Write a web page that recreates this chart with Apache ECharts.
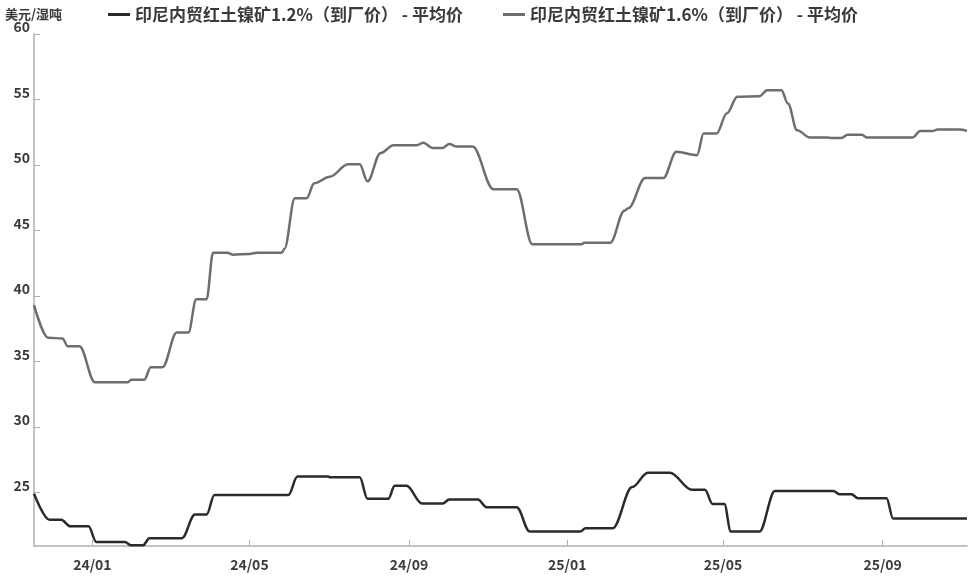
<!DOCTYPE html>
<html><head><meta charset="utf-8">
<script src="https://cdn.jsdelivr.net/npm/echarts@6/dist/echarts.min.js"></script>
<style>html,body{margin:0;padding:0;background:#fff}#c{width:975px;height:579px}</style>
</head><body><div id="c"></div>
<script>
var seriesNames = ['印尼内贸红土镍矿1.2%（到厂价） - 平均价', '印尼内贸红土镍矿1.6%（到厂价） - 平均价'];
var yTicks = [25, 30, 35, 40, 45, 50, 55, 60];
var xTicks = ['2024-01-01', '2024-05-01', '2024-09-01', '2025-01-01', '2025-05-01', '2025-09-01'];
var xRange = ['2023-11-17', '2025-11-05'];

var dates12 = ['2023-11-17','2023-11-29','2023-12-08','2023-12-15','2023-12-29','2024-01-04','2024-01-26','2024-01-31','2024-02-09','2024-02-14','2024-03-10','2024-03-20','2024-03-29','2024-04-04','2024-05-31','2024-06-07','2024-07-01','2024-07-02','2024-07-25','2024-07-31','2024-08-16','2024-08-21','2024-08-30','2024-09-11','2024-09-27','2024-10-02','2024-10-24','2024-10-31','2024-11-23','2024-12-03','2025-01-11','2025-01-15','2025-02-05','2025-02-20','2025-03-04','2025-03-21','2025-04-07','2025-04-17','2025-04-23','2025-05-02','2025-05-07','2025-05-29','2025-06-10','2025-07-25','2025-07-30','2025-08-08','2025-08-13','2025-09-04','2025-09-09','2025-11-05'];
var values12 = [24.9,22.9,22.9,22.4,22.4,21.2,21.2,20.95,20.95,21.5,21.5,23.3,23.3,24.8,24.8,26.2,26.2,26.15,26.15,24.5,24.5,25.5,25.5,24.15,24.15,24.45,24.45,23.85,23.85,22.0,22.0,22.25,22.25,25.4,26.5,26.5,25.2,25.2,24.1,24.1,22.0,22.0,25.1,25.1,24.85,24.85,24.55,24.55,23.0,23.0];

var dates16 = ['2023-11-17','2023-11-28','2023-12-09','2023-12-13','2023-12-22','2024-01-03','2024-01-28','2024-01-31','2024-02-10','2024-02-15','2024-02-24','2024-03-06','2024-03-15','2024-03-21','2024-03-29','2024-04-03','2024-04-14','2024-04-18','2024-05-01','2024-05-07','2024-05-26','2024-05-28','2024-06-05','2024-06-14','2024-06-20','2024-07-02','2024-07-16','2024-07-25','2024-07-31','2024-08-10','2024-08-20','2024-09-07','2024-09-12','2024-09-19','2024-09-27','2024-10-02','2024-10-08','2024-10-20','2024-11-05','2024-11-23','2024-12-05','2025-01-12','2025-01-14','2025-02-03','2025-02-14','2025-02-17','2025-03-02','2025-03-16','2025-03-26','2025-04-11','2025-04-16','2025-04-26','2025-05-04','2025-05-12','2025-05-29','2025-06-04','2025-06-15','2025-06-20','2025-06-27','2025-07-07','2025-07-20','2025-07-24','2025-07-31','2025-08-05','2025-08-16','2025-08-20','2025-09-24','2025-09-30','2025-10-10','2025-10-13','2025-10-30','2025-11-05'];
var values16 = [39.3,36.8,36.75,36.15,36.15,33.4,33.4,33.6,33.6,34.55,34.55,37.2,37.2,39.75,39.75,43.3,43.3,43.15,43.2,43.3,43.3,43.6,47.45,47.45,48.6,49.1,50.05,50.05,48.75,50.9,51.5,51.5,51.7,51.3,51.3,51.6,51.4,51.4,48.15,48.15,43.95,43.95,44.05,44.05,46.5,46.7,49.0,49.0,51.0,50.75,52.4,52.4,53.95,55.2,55.25,55.7,55.7,54.7,52.65,52.1,52.1,52.05,52.05,52.3,52.3,52.1,52.1,52.6,52.6,52.7,52.7,52.6];

function ts(s){var p=s.split('-');return Date.UTC(+p[0],+p[1]-1,+p[2]);}
function pairs(d,v){return d.map(function(x,i){return [ts(x),v[i]];});}

var chart = echarts.init(document.getElementById('c'));
var font = '"Noto Sans CJK SC", "Noto Sans", sans-serif';
chart.setOption({
  animation:false,
  textStyle:{fontFamily:font},
  grid:{left:34,right:8,top:34,bottom:33,containLabel:false},
  legend:{
    left:103, top:1, itemWidth:22, itemHeight:14, itemGap:40,
    icon:'path://M0,5.5 L22,5.5 L22,8.5 L0,8.5 Z',
    textStyle:{fontSize:17,color:'#3a3a3a',fontWeight:'bold',fontFamily:font},
    data:seriesNames
  },
  xAxis:{
    type:'value', min:ts(xRange[0]), max:ts(xRange[1]),
    axisLine:{lineStyle:{color:'#b0b0b0',width:1.5}},
    axisTick:{show:true,inside:true,length:6,lineStyle:{color:'#b0b0b0'},customValues:xTicks.map(ts)},
    axisLabel:{customValues:xTicks.map(ts),margin:12,fontSize:14,fontWeight:'bold',color:'#3a3a3a',
      formatter:function(v){var d=new Date(v);var y=String(d.getUTCFullYear()).slice(2);var m=d.getUTCMonth()+1;return y+'/'+(m<10?'0'+m:m);}},
    splitLine:{show:false}
  },
  yAxis:{
    type:'value', min:20.9, max:60,
    name:'美元/湿吨', nameLocation:'end', nameGap:10,
    nameTextStyle:{fontSize:13,color:'#3a3a3a',fontWeight:'bold',align:'left',padding:[0,0,0,-29]},
    axisLine:{show:true,lineStyle:{color:'#b0b0b0',width:1.5}},
    axisTick:{show:true,inside:true,length:6,lineStyle:{color:'#b0b0b0'},customValues:yTicks},
    axisLabel:{customValues:yTicks,margin:4,fontSize:14,fontWeight:'bold',color:'#3a3a3a',verticalAlign:'bottom'},
    splitLine:{show:false}
  },
  series:[
    {name:seriesNames[0],type:'line',data:pairs(dates12,values12),showSymbol:false,smooth:0.35,smoothMonotone:'x',
      lineStyle:{color:'#2a2a2a',width:2.5},itemStyle:{color:'#2a2a2a'}},
    {name:seriesNames[1],type:'line',data:pairs(dates16,values16),showSymbol:false,smooth:0.35,smoothMonotone:'x',
      lineStyle:{color:'#6e6e6e',width:2.5},itemStyle:{color:'#6e6e6e'}}
  ]
});
</script></body></html>
